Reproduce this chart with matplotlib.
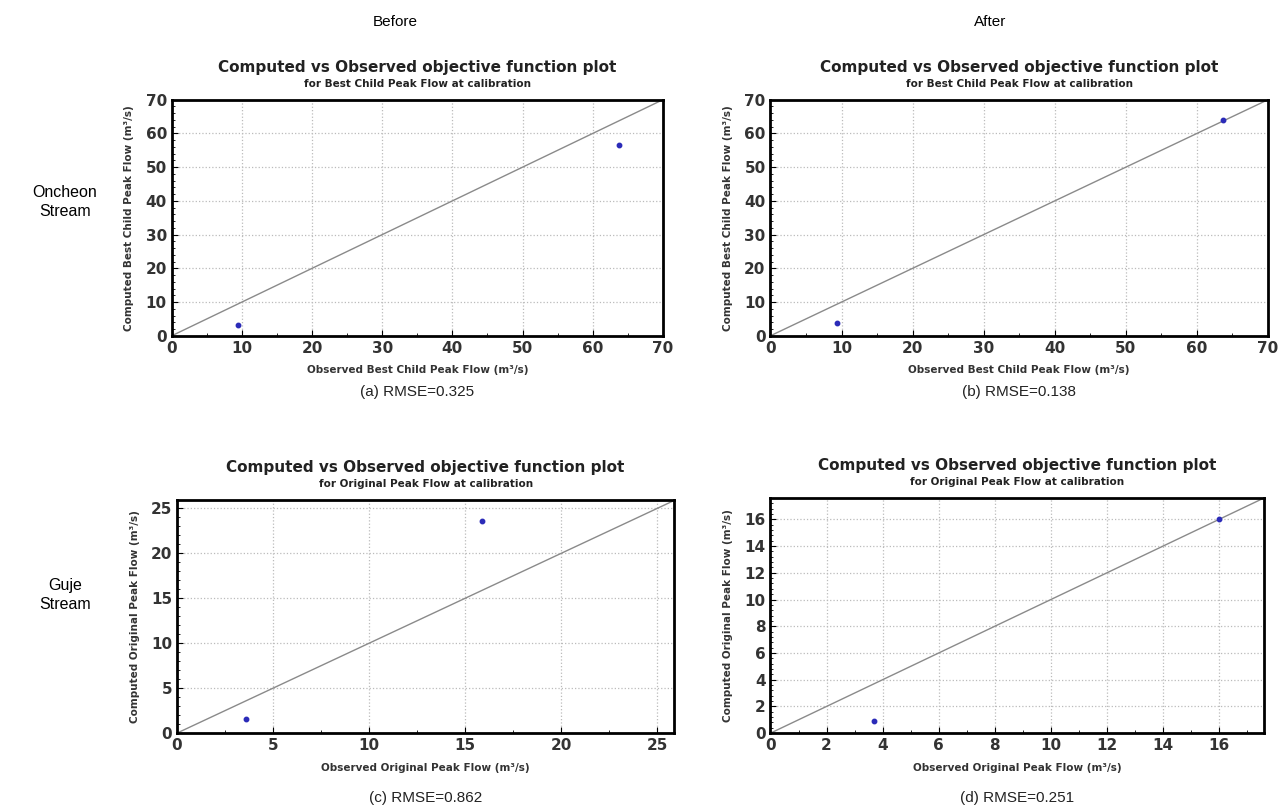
import matplotlib
matplotlib.use("Agg")
import matplotlib.pyplot as plt
from matplotlib.ticker import MultipleLocator

# Observed vs computed peak flows for each panel
obs_a = [9.5, 63.7]
comp_a = [3.2, 56.5]
obs_b = [9.3, 63.7]
comp_b = [3.8, 64.0]
obs_c = [3.6, 15.9]
comp_c = [1.6, 23.6]
obs_d = [3.7, 16.0]
comp_d = [0.9, 16.0]

limits = [70, 70, 25.9, 17.6]
major_steps = [10, 10, 5, 2]
subtitles = ["for Best Child Peak Flow at calibration",
             "for Best Child Peak Flow at calibration",
             "for Original Peak Flow at calibration",
             "for Original Peak Flow at calibration"]
xlabels = ["Observed Best Child Peak Flow (m³/s)",
           "Observed Best Child Peak Flow (m³/s)",
           "Observed Original Peak Flow (m³/s)",
           "Observed Original Peak Flow (m³/s)"]
ylabels = ["Computed Best Child Peak Flow (m³/s)",
           "Computed Best Child Peak Flow (m³/s)",
           "Computed Original Peak Flow (m³/s)",
           "Computed Original Peak Flow (m³/s)"]
captions = ["(a) RMSE=0.325", "(b) RMSE=0.138", "(c) RMSE=0.862", "(d) RMSE=0.251"]

fig = plt.figure(figsize=(12.82, 8.11), dpi=100)
positions = [[0.134, 0.586, 0.383, 0.291],
             [0.601, 0.586, 0.388, 0.291],
             [0.138, 0.096, 0.388, 0.287],
             [0.601, 0.096, 0.385, 0.290]]
caption_gap = [0.069, 0.069, 0.080, 0.080]
data = [(obs_a, comp_a), (obs_b, comp_b), (obs_c, comp_c), (obs_d, comp_d)]

for i, pos in enumerate(positions):
    ax = fig.add_axes(pos)
    lim = limits[i]
    ax.plot([0, lim], [0, lim], color="#8a8a8a", lw=1.0)
    ax.plot(data[i][0], data[i][1], "o", color="#2b2bb8", ms=3.2, zorder=3)
    ax.set_xlim(0, lim)
    ax.set_ylim(0, lim)
    step = major_steps[i]
    ax.xaxis.set_major_locator(MultipleLocator(step))
    ax.yaxis.set_major_locator(MultipleLocator(step))
    ax.xaxis.set_minor_locator(MultipleLocator(step / 2))
    ax.yaxis.set_minor_locator(MultipleLocator(step / 5))
    ax.grid(True, which="major", color="#bbbbbb", linestyle=":", lw=0.9)
    for s in ax.spines.values():
        s.set_linewidth(2.0)
    ax.tick_params(which="major", direction="in", length=4, labelsize=11)
    ax.tick_params(which="minor", direction="in", length=2)
    for lab in ax.get_xticklabels() + ax.get_yticklabels():
        lab.set_fontweight("bold")
        lab.set_color("#333333")
    ax.set_xlabel(xlabels[i], fontsize=7.5, fontweight="bold", color="#333333", labelpad=7)
    ax.set_ylabel(ylabels[i], fontsize=7.5, fontweight="bold", color="#333333", labelpad=8)
    cx = pos[0] + pos[2] / 2
    top = pos[1] + pos[3]
    fig.text(cx, top + 0.040, "Computed vs Observed objective function plot",
             ha="center", va="center", fontsize=11, fontweight="bold", color="#222222")
    fig.text(cx, top + 0.020, subtitles[i], ha="center", va="center",
             fontsize=7.5, fontweight="bold", color="#222222")
    fig.text(cx, pos[1] - caption_gap[i], captions[i], ha="center", va="center",
             fontsize=11, family="Liberation Sans", color="#222222")

fig.text(395 / 1282, 1 - 22 / 811, "Before", ha="center", va="center",
         fontsize=11, family="Liberation Sans")
fig.text(990 / 1282, 1 - 22 / 811, "After", ha="center", va="center",
         fontsize=11, family="Liberation Sans")
fig.text(65 / 1282, 1 - 202 / 811, "Oncheon\nStream", ha="center", va="center",
         fontsize=11.5, family="Liberation Sans", linespacing=1.4)
fig.text(65 / 1282, 1 - 595 / 811, "Guje\nStream", ha="center", va="center",
         fontsize=11.5, family="Liberation Sans", linespacing=1.4)

fig.savefig("out.png", dpi=100)
